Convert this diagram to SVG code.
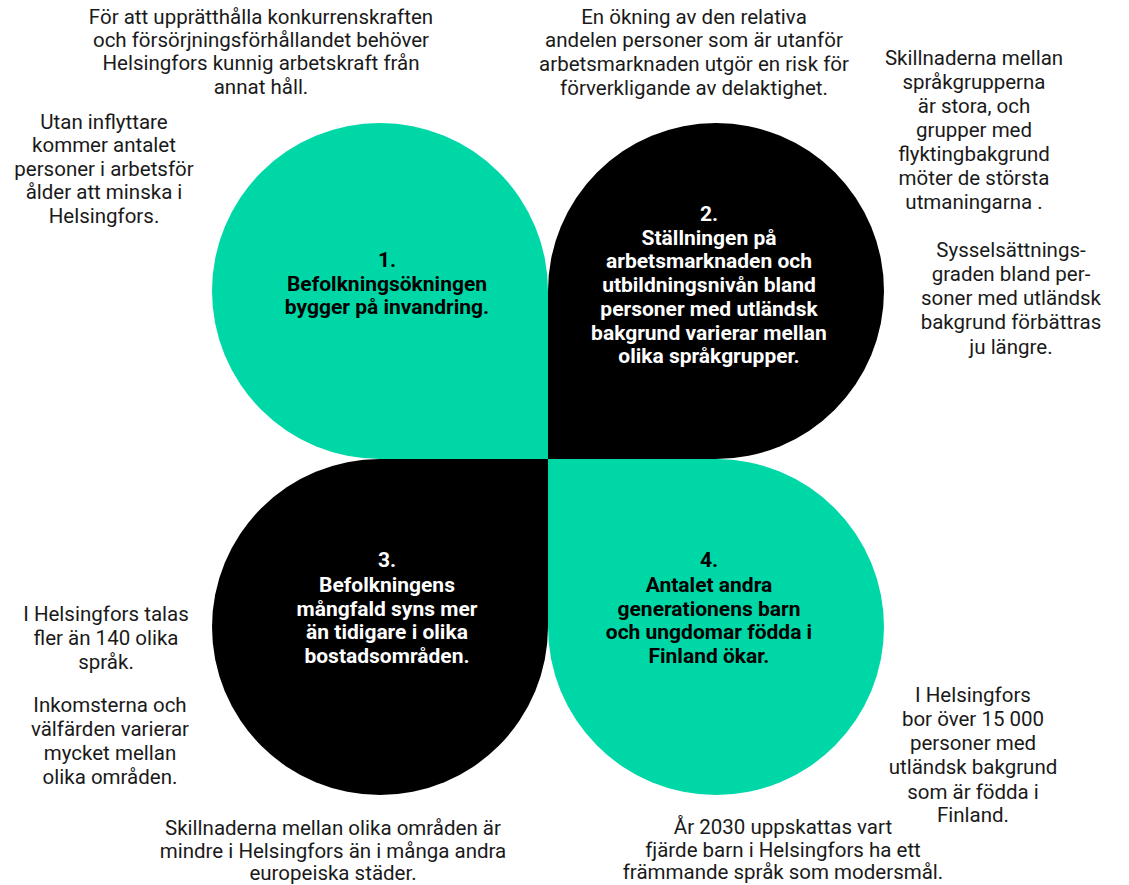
<svg xmlns="http://www.w3.org/2000/svg" width="1129" height="885" viewBox="0 0 1129 885">
<style>
.teal{fill:#00d7a7}
.blk{fill:#000}
.t{font-family:Roboto,"Liberation Sans",sans-serif;font-size:20.5px;fill:#1a1a1a;text-anchor:middle}
.b{font-family:Roboto,"Liberation Sans",sans-serif;font-size:21px;font-weight:bold;text-anchor:middle}
.bk{fill:#000}
.wh{fill:#fff}
</style>
<rect width="1129" height="885" fill="#fff"/>
<g id="petal1">
<path class="teal" d="M548,459 V291 A168,168 0 1 0 380,459 Z"/>
<text class="b bk"><tspan x="387" y="267">1.</tspan><tspan x="387" y="291">Befolkningsökningen</tspan><tspan x="387" y="314">bygger på invandring.</tspan></text>
</g>
<g id="petal2">
<path class="blk" d="M548,459 V291 A168,168 0 1 1 716,459 Z"/>
<text class="b wh"><tspan x="709" y="221">2.</tspan><tspan x="709" y="245">Ställningen på</tspan><tspan x="709" y="268">arbetsmarknaden och</tspan><tspan x="709" y="292">utbildningsnivån bland</tspan><tspan x="709" y="316">personer med utländsk</tspan><tspan x="709" y="340">bakgrund varierar mellan</tspan><tspan x="709" y="363">olika språkgrupper.</tspan></text>
</g>
<g id="petal3">
<path class="blk" d="M548,459 H380 A168,168 0 1 0 548,627 Z"/>
<text class="b wh"><tspan x="387" y="567">3.</tspan><tspan x="387" y="592">Befolkningens</tspan><tspan x="387" y="616">mångfald syns mer</tspan><tspan x="387" y="639">än tidigare i olika</tspan><tspan x="387" y="663">bostadsområden.</tspan></text>
</g>
<g id="petal4">
<path class="teal" d="M548,459 H716 A168,168 0 1 1 548,627 Z"/>
<text class="b bk"><tspan x="709" y="567">4.</tspan><tspan x="709" y="592">Antalet andra</tspan><tspan x="709" y="616">generationens barn</tspan><tspan x="709" y="639">och ungdomar födda i</tspan><tspan x="709" y="663">Finland ökar.</tspan></text>
</g>
<g id="notes">
<text class="t"><tspan x="261" y="24">För att upprätthålla konkurrenskraften</tspan><tspan x="261" y="47">och försörjningsförhållandet behöver</tspan><tspan x="261" y="70">Helsingfors kunnig arbetskraft från</tspan><tspan x="261" y="94">annat håll.</tspan></text>
<text class="t"><tspan x="104" y="129">Utan inflyttare</tspan><tspan x="104" y="152">kommer antalet</tspan><tspan x="104" y="176">personer i arbetsför</tspan><tspan x="104" y="199">ålder att minska i</tspan><tspan x="104" y="223">Helsingfors.</tspan></text>
<text class="t"><tspan x="694" y="24">En ökning av den relativa</tspan><tspan x="694" y="47">andelen personer som är utanför</tspan><tspan x="694" y="71">arbetsmarknaden utgör en risk för</tspan><tspan x="694" y="95">förverkligande av delaktighet.</tspan></text>
<text class="t"><tspan x="974" y="65">Skillnaderna mellan</tspan><tspan x="974" y="89">språkgrupperna</tspan><tspan x="974" y="113">är stora, och</tspan><tspan x="974" y="137">grupper med</tspan><tspan x="974" y="161">flyktingbakgrund</tspan><tspan x="974" y="185">möter de största</tspan><tspan x="974" y="209">utmaningarna .</tspan></text>
<text class="t"><tspan x="1011" y="257">Sysselsättnings-</tspan><tspan x="1011" y="281">graden bland per-</tspan><tspan x="1011" y="305">soner med utländsk</tspan><tspan x="1011" y="329">bakgrund förbättras</tspan><tspan x="1011" y="354">ju längre.</tspan></text>
<text class="t"><tspan x="106" y="621">I Helsingfors talas</tspan><tspan x="106" y="645">fler än 140 olika</tspan><tspan x="106" y="669">språk.</tspan></text>
<text class="t"><tspan x="110" y="712">Inkomsterna och</tspan><tspan x="110" y="736">välfärden varierar</tspan><tspan x="110" y="760">mycket mellan</tspan><tspan x="110" y="784">olika områden.</tspan></text>
<text class="t"><tspan x="333" y="835">Skillnaderna mellan olika områden är</tspan><tspan x="333" y="858">mindre i Helsingfors än i många andra</tspan><tspan x="333" y="880">europeiska städer.</tspan></text>
<text class="t"><tspan x="973" y="702">I Helsingfors</tspan><tspan x="973" y="726">bor över 15 000</tspan><tspan x="973" y="750">personer med</tspan><tspan x="973" y="774">utländsk bakgrund</tspan><tspan x="973" y="799">som är födda i</tspan><tspan x="973" y="822">Finland.</tspan></text>
<text class="t"><tspan x="783" y="834">År 2030 uppskattas vart</tspan><tspan x="783" y="857">fjärde barn i Helsingfors ha ett</tspan><tspan x="783" y="879">främmande språk som modersmål.</tspan></text>
</g>
</svg>
